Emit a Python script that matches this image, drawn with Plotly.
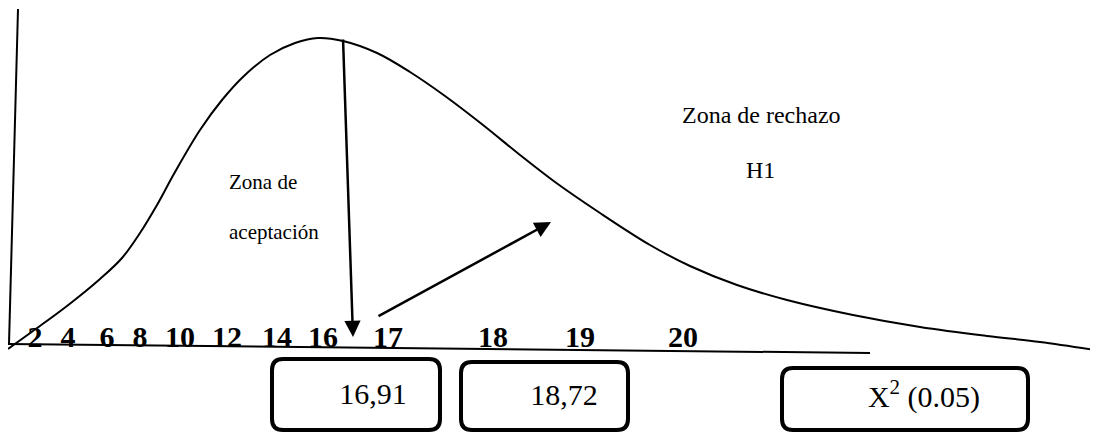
import plotly.graph_objects as go

# page is 1098 x 432; axes run in page pixels (y downwards).
# the html body has an 8px margin, so the ranges start at 8 to line up with the window.
W, H = 1098, 432
PAD = 8

# curve
curve_x = [8, 33, 67, 100, 122, 140, 157, 175, 200, 222, 245, 270, 295, 318, 343,
           377, 410, 445, 483, 520, 555, 600, 650, 690, 737, 787, 853, 920, 987, 1040, 1095]
curve_y = [349, 331, 306, 279, 258, 233, 205, 172, 130, 100, 75, 55, 43, 38, 41,
           53, 72, 96, 125, 155, 182, 213, 245, 266, 285, 300, 315, 327, 336, 342, 350]

# bold numbers along the base line
tick_labels = ["2", "4", "6", "8", "10", "12", "14", "16", "17", "18", "19", "20"]
tick_x = [35, 68, 107, 140, 180, 227, 277, 323, 388, 493, 580, 683]
tick_y = [339, 339, 339, 339, 339, 339, 339, 339, 339, 339, 339, 339]

# values in the boxes
box_labels = ["16,91", "18,72", "X<sup>2</sup> (0.05)"]
box_label_x = [373, 564, 924]
box_label_y = [396, 397, 399]
boxes = [(272, 359, 440, 430), (461, 362, 628, 430), (782, 368, 1028, 430)]

serif = "Liberation Serif"


def rounded_box(x0, y0, x1, y1, r=11):
    return (f"M {x0 + r},{y0} L {x1 - r},{y0} Q {x1},{y0} {x1},{y0 + r} "
            f"L {x1},{y1 - r} Q {x1},{y1} {x1 - r},{y1} L {x0 + r},{y1} "
            f"Q {x0},{y1} {x0},{y1 - r} L {x0},{y0 + r} Q {x0},{y0} {x0 + r},{y0} Z")


fig = go.Figure()

fig.add_trace(go.Scatter(x=curve_x, y=curve_y, mode="lines",
                         line=dict(color="black", width=2, shape="spline", smoothing=1.0),
                         hoverinfo="skip"))

fig.add_trace(go.Scatter(x=tick_x, y=tick_y, mode="text", text=tick_labels,
                         textfont=dict(family=serif, size=30, color="black", weight="bold"),
                         hoverinfo="skip"))

fig.add_trace(go.Scatter(x=box_label_x, y=box_label_y, mode="text", text=box_labels,
                         textfont=dict(family=serif, size=30, color="black"),
                         hoverinfo="skip"))

# axes drawn by hand (slightly tilted, like the original sketch)
fig.add_shape(type="line", x0=18, y0=9, x1=9, y1=344, line=dict(color="black", width=2))
fig.add_shape(type="line", x0=8, y0=344, x1=870, y1=353, line=dict(color="black", width=2))

for b in boxes:
    fig.add_shape(type="path", path=rounded_box(*b), line=dict(color="black", width=4),
                  fillcolor="rgba(0,0,0,0)")

# arrows
fig.add_annotation(x=353, y=337, ax=343, ay=38, xref="x", yref="y", axref="x", ayref="y",
                   text="", showarrow=True, arrowhead=2, arrowsize=1.3, arrowwidth=2.5,
                   arrowcolor="black", standoff=0)
fig.add_annotation(x=551, y=222, ax=377, ay=317, xref="x", yref="y", axref="x", ayref="y",
                   text="", showarrow=True, arrowhead=2, arrowsize=1.3, arrowwidth=2.5,
                   arrowcolor="black", standoff=0)

# zone labels
fig.add_annotation(x=227, y=182, text="Zona de", showarrow=False, xanchor="left",
                   font=dict(family=serif, size=21, color="black"))
fig.add_annotation(x=227, y=232, text="aceptación", showarrow=False, xanchor="left",
                   font=dict(family=serif, size=21, color="black"))
fig.add_annotation(x=761, y=115, text="Zona de rechazo", showarrow=False,
                   font=dict(family=serif, size=24, color="black"))
fig.add_annotation(x=760, y=170, text="H1", showarrow=False,
                   font=dict(family=serif, size=24, color="black"))

fig.update_xaxes(range=[PAD, W + PAD], visible=False, fixedrange=True)
fig.update_yaxes(range=[H + PAD, PAD], visible=False, fixedrange=True)
fig.update_layout(width=W, height=H, margin=dict(l=0, r=0, t=0, b=0),
                  paper_bgcolor="white", plot_bgcolor="white", showlegend=False)

fig.write_html("out.html")
